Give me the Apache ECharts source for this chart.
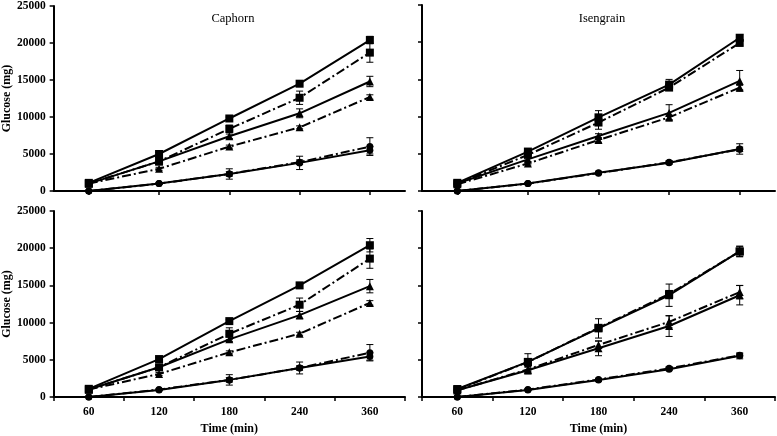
<!DOCTYPE html>
<html><head><meta charset="utf-8">
<script src="https://cdn.jsdelivr.net/npm/echarts@6/dist/echarts.min.js"></script>
<style>html,body{margin:0;padding:0;background:#fff}#c{width:777px;height:436px}</style>
</head><body><div id="c"></div>
<script>
const categories = ['60', '120', '180', '240', '360'];
const yTicks = [0, 5000, 10000, 15000, 20000, 25000];
const panelTitles = ['Caphorn', 'Isengrain', '', ''];

// Top-left (Caphorn, upper)
const tlSquareSolid = [1100, 5000, 9800, 14500, 20400];
const tlSquareSolidErr = [150, 200, 200, 200, 500];
const tlSquareDash = [1000, 4000, 8400, 12600, 18700];
const tlSquareDashErr = [100, 200, 500, 900, 1300];
const tlTriSolid = [1000, 4000, 7400, 10500, 14800];
const tlTriSolidErr = [100, 200, 300, 600, 700];
const tlTriDash = [1000, 3000, 6000, 8600, 12700];
const tlTriDashErr = [100, 200, 200, 200, 300];
const tlLowSolid = [0, 1000, 2300, 3800, 5500];
const tlLowSolidErr = [0, 100, 700, 900, 500];
const tlLowDash = [0, 1000, 2300, 3900, 6000];
const tlLowDashErr = [0, 100, 300, 300, 1200];

// Top-right (Isengrain, upper)
const trSquareSolid = [1100, 5300, 9900, 14300, 20600];
const trSquareSolidErr = [150, 300, 900, 700, 400];
const trSquareDash = [1000, 4850, 9200, 13900, 19900];
const trSquareDashErr = [100, 300, 900, 300, 300];
const trTriSolid = [1000, 4250, 7400, 10500, 14800];
const trTriSolidErr = [100, 300, 300, 1100, 1400];
const trTriDash = [900, 3700, 6850, 9900, 13900];
const trTriDashErr = [100, 200, 300, 300, 300];
const trLowSolid = [0, 1000, 2450, 3800, 5650];
const trLowSolidErr = [0, 100, 200, 200, 700];
const trLowDash = [0, 1000, 2400, 3850, 5600];
const trLowDashErr = [0, 100, 100, 200, 300];

// Bottom-left (Caphorn, lower)
const blSquareSolid = [1100, 5100, 10200, 15000, 20400];
const blSquareSolidErr = [150, 200, 200, 400, 900];
const blSquareDash = [1000, 4000, 8500, 12400, 18600];
const blSquareDashErr = [100, 300, 800, 900, 1300];
const blTriSolid = [1000, 4000, 7750, 11000, 14900];
const blTriSolidErr = [100, 200, 300, 500, 900];
const blTriDash = [1000, 3100, 6000, 8500, 12650];
const blTriDashErr = [100, 200, 200, 200, 300];
const blLowSolid = [0, 940, 2300, 3900, 5450];
const blLowSolidErr = [0, 100, 700, 800, 500];
const blLowDash = [0, 1000, 2300, 3900, 5950];
const blLowDashErr = [0, 100, 300, 300, 1100];

// Bottom-right (Isengrain, lower)
const brSquareSolid = [1070, 4720, 9220, 13680, 19560];
const brSquareSolidErr = [150, 1100, 1300, 1500, 700];
const brSquareDash = [1000, 4700, 9300, 13850, 19560];
const brSquareDashErr = [100, 300, 300, 300, 700];
const brTriSolid = [900, 3600, 6550, 9540, 13680];
const brTriSolidErr = [100, 500, 1000, 1400, 1300];
const brTriDash = [900, 3700, 7000, 10100, 14100];
const brTriDashErr = [100, 300, 500, 800, 900];
const brLowSolid = [0, 940, 2300, 3740, 5530];
const brLowSolidErr = [0, 100, 200, 200, 400];
const brLowDash = [0, 1000, 2350, 3850, 5600];
const brLowDashErr = [0, 100, 100, 200, 200];

const panels = [
  [[tlSquareSolid, tlSquareSolidErr, 'rect', 'solid'], [tlSquareDash, tlSquareDashErr, 'rect', 'dash'],
   [tlTriSolid, tlTriSolidErr, 'triangle', 'solid'], [tlTriDash, tlTriDashErr, 'triangle', 'dash'],
   [tlLowSolid, tlLowSolidErr, 'circle', 'solid'], [tlLowDash, tlLowDashErr, 'circle', 'dash']],
  [[trSquareSolid, trSquareSolidErr, 'rect', 'solid'], [trSquareDash, trSquareDashErr, 'rect', 'dash'],
   [trTriSolid, trTriSolidErr, 'triangle', 'solid'], [trTriDash, trTriDashErr, 'triangle', 'dash'],
   [trLowSolid, trLowSolidErr, 'circle', 'solid'], [trLowDash, trLowDashErr, 'circle', 'dash']],
  [[blSquareSolid, blSquareSolidErr, 'rect', 'solid'], [blSquareDash, blSquareDashErr, 'rect', 'dash'],
   [blTriSolid, blTriSolidErr, 'triangle', 'solid'], [blTriDash, blTriDashErr, 'triangle', 'dash'],
   [blLowSolid, blLowSolidErr, 'circle', 'solid'], [blLowDash, blLowDashErr, 'circle', 'dash']],
  [[brSquareSolid, brSquareSolidErr, 'rect', 'solid'], [brSquareDash, brSquareDashErr, 'rect', 'dash'],
   [brTriSolid, brTriSolidErr, 'triangle', 'solid'], [brTriDash, brTriDashErr, 'triangle', 'dash'],
   [brLowSolid, brLowSolidErr, 'circle', 'solid'], [brLowDash, brLowDashErr, 'circle', 'dash']]
];

const FONT = '"Liberation Serif", "Times New Roman", serif';
const grids = [
  {left: 52, top: 5, width: 353, height: 186},
  {left: 422, top: 5, width: 353, height: 186},
  {left: 52, top: 211, width: 353, height: 187},
  {left: 422, top: 211, width: 353, height: 187}
];

const xAxis = [], yAxis = [], series = [];
grids.forEach((g, i) => {
  const bottom = i >= 2, left = i % 2 === 0;
  xAxis.push({
    type: 'category', gridIndex: i, data: categories, boundaryGap: true,
    axisLine: {lineStyle: {color: '#000', width: 2}},
    axisTick: {show: true, alignWithLabel: !bottom, length: 4, lineStyle: {color: '#000', width: 1.5}},
    axisLabel: {show: bottom, color: '#000', fontFamily: FONT, fontWeight: 'bold', fontSize: 11.5, margin: 9},
    name: bottom ? 'Time (min)' : '', nameLocation: 'middle', nameGap: 26,
    nameTextStyle: {color: '#000', fontFamily: FONT, fontWeight: 'bold', fontSize: 12}
  });
  yAxis.push({
    type: 'value', gridIndex: i, min: yTicks[0], max: yTicks[yTicks.length - 1], interval: yTicks[1] - yTicks[0],
    splitLine: {show: false},
    axisLine: {show: true, lineStyle: {color: '#000', width: 2}},
    axisTick: {show: true, length: 4, lineStyle: {color: '#000', width: 1.5}},
    axisLabel: {show: left, color: '#000', fontFamily: FONT, fontWeight: 'bold', fontSize: 11.5, margin: 8,
      formatter: v => String(v)},
    name: left ? 'Glucose (mg)' : '', nameLocation: 'middle', nameGap: 34,
    nameTextStyle: {color: '#000', fontFamily: FONT, fontWeight: 'bold', fontSize: 12}
  });
  panels[i].forEach(([vals, errs, sym, style]) => {
    series.push({
      type: 'custom', xAxisIndex: i, yAxisIndex: i, silent: true, z: 1,
      data: vals.map((v, k) => [k, v, errs[k]]),
      renderItem: (params, api) => {
        const x = api.value(0), v = api.value(1), e = api.value(2);
        if (!e) return null;
        const hi = api.coord([x, v + e]), lo = api.coord([x, v - e]);
        const st = {stroke: '#000', lineWidth: 1};
        return {type: 'group', children: [
          {type: 'line', shape: {x1: hi[0], y1: hi[1], x2: lo[0], y2: lo[1]}, style: st},
          {type: 'line', shape: {x1: hi[0] - 3.5, y1: hi[1], x2: hi[0] + 3.5, y2: hi[1]}, style: st},
          {type: 'line', shape: {x1: lo[0] - 3.5, y1: lo[1], x2: lo[0] + 3.5, y2: lo[1]}, style: st}
        ]};
      }
    });
    series.push({
      type: 'line', xAxisIndex: i, yAxisIndex: i, data: vals, z: 3,
      symbol: sym, symbolSize: sym === 'circle' ? 7 : 8, showSymbol: true,
      itemStyle: {color: '#000'},
      lineStyle: {color: '#000', width: 2, type: style === 'solid' ? 'solid' : [9, 3, 2, 3]},
      animation: false
    });
  });
});

const chart = echarts.init(document.getElementById('c'), null, {renderer: 'canvas'});
chart.setOption({
  animation: false,
  backgroundColor: '#fff',
  title: [
    {text: panelTitles[0], left: 228, top: 7, textAlign: 'center', textStyle: {fontFamily: FONT, fontWeight: 'normal', fontSize: 12.5, color: '#000'}},
    {text: panelTitles[1], left: 597, top: 7, textAlign: 'center', textStyle: {fontFamily: FONT, fontWeight: 'normal', fontSize: 12.5, color: '#000'}}
  ],
  grid: grids, xAxis, yAxis, series
});
</script></body></html>
